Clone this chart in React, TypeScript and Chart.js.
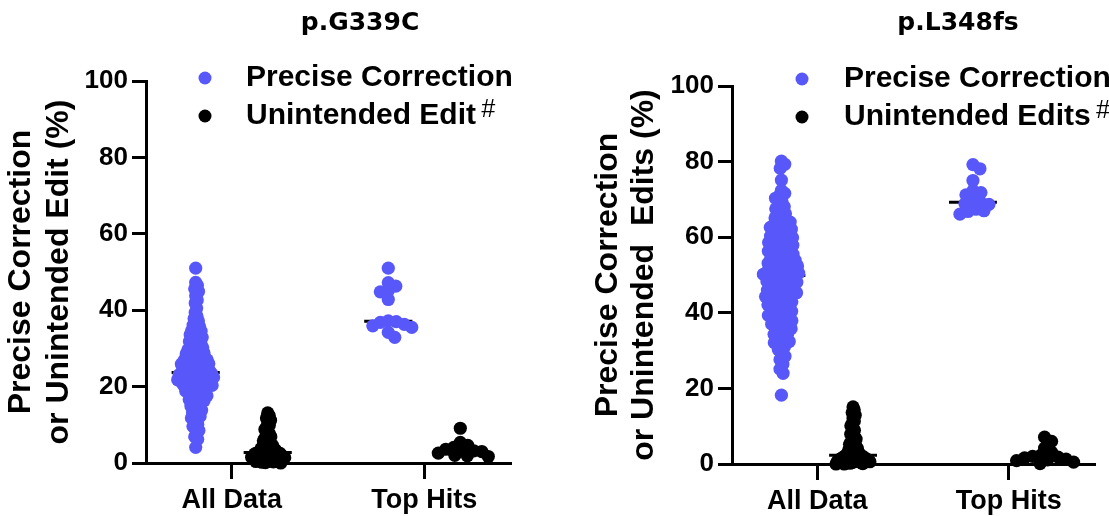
import React, { useEffect, useRef } from 'react';
import { Chart, registerables } from 'chart.js';

Chart.register(...registerables);

// ---------------- data ----------------
const categories = ['All Data', 'Top Hits'];
const yTickValues = [0, 20, 40, 60, 80, 100];

const g339cAllPrecise = [
  51.0, 47.3, 46.5, 45.6, 44.9, 43.8, 42.7, 41.9, 40.6, 39.4,
  38.5, 37.8, 37.2, 36.6, 36.1, 35.7, 35.2, 34.9, 34.5, 34.0,
  33.6, 33.3, 32.9, 32.5, 32.2, 31.8, 31.5, 31.1, 30.8, 30.6,
  30.2, 29.9, 29.7, 29.4, 29.1, 28.8, 28.6, 28.3, 28.1, 27.9,
  27.7, 27.4, 27.2, 27.0, 26.9, 26.7, 26.5, 26.4, 26.2, 26.0,
  25.9, 25.7, 25.5, 25.4, 25.2, 25.0, 24.9, 24.7, 24.5, 24.4,
  24.2, 24.1, 23.9, 23.7, 23.6, 23.4, 23.2, 23.1, 22.9, 22.7,
  22.6, 22.4, 22.2, 22.0, 21.9, 21.7, 21.5, 21.3, 21.1, 20.9,
  20.7, 20.5, 20.3, 20.1, 19.8, 19.6, 19.3, 19.0, 18.8, 18.5,
  18.2, 17.9, 17.6, 17.3, 17.0, 16.6, 16.3, 15.9, 15.5, 15.1,
  14.7, 14.3, 13.8, 13.4, 12.9, 12.5, 11.8, 11.2, 10.7, 10.1,
  9.6, 9.0, 8.5, 7.7, 6.9, 6.2, 4.1,
  23.8, 23.3, 22.8, 22.3, 21.8, 21.4, 20.8, 20.2, 19.5, 18.7, 17.8, 16.9,
  34.7, 33.1, 31.9, 30.4, 29.6, 28.9, 28.2, 27.6, 27.1, 26.6,
  26.1, 25.6, 25.1, 24.6, 24.0, 23.5, 23.0, 22.5, 22.1, 21.6,
  21.0, 20.4, 19.7, 18.9, 18.0, 17.1, 16.0, 14.9, 13.6, 12.2,
];
const g339cAllUnintended = [
  13.1, 12.4, 11.8, 11.2, 10.5, 9.9, 9.3, 8.8, 8.2, 7.7,
  7.3, 6.9, 6.5, 6.1, 5.8, 5.5, 5.2, 4.9, 4.7, 4.4,
  4.2, 4.0, 3.8, 3.7, 3.5, 3.4, 3.2, 3.1, 3.0, 2.9,
  2.8, 2.7, 2.6, 2.5, 2.5, 2.4, 2.3, 2.2, 2.1, 2.0,
  2.0, 1.9, 1.8, 1.7, 1.6, 1.5, 1.5, 1.4, 1.3, 1.2,
  1.1, 1.0, 0.9, 0.8, 0.7, 0.6, 0.5, 0.4, 0.3, 0.2, 0.1, 0.0,
];
const g339cTopPrecise = [51.0, 47.2, 46.3, 45.1, 44.8, 42.8, 37.2, 37.0, 36.8, 36.3, 35.9, 35.5, 34.2, 32.9];
const g339cTopUnintended = [9.1, 5.4, 4.6, 4.1, 3.6, 3.3, 3.2, 3.0, 2.6, 2.0, 1.9, 1.7];

const l348fsAllPrecise = [
  80.1, 79.3, 78.2, 75.1, 72.4, 71.6, 70.9, 70.3, 69.6, 68.8,
  68.1, 67.5, 66.9, 66.2, 65.6, 65.1, 64.6, 64.0, 63.5, 63.0,
  62.6, 62.1, 61.7, 61.2, 60.8, 60.3, 59.9, 59.4, 59.0, 58.6,
  58.1, 57.7, 57.3, 56.9, 56.5, 56.1, 55.7, 55.3, 54.9, 54.5,
  54.1, 53.8, 53.4, 53.1, 52.7, 52.4, 52.1, 51.7, 51.4, 51.1,
  50.8, 50.5, 50.2, 49.9, 49.6, 49.3, 49.0, 48.6, 48.3, 47.9,
  47.6, 47.2, 46.9, 46.5, 46.1, 45.8, 45.4, 45.1, 44.7, 44.3,
  43.9, 43.5, 43.1, 42.7, 42.3, 41.9, 41.4, 41.0, 40.6, 40.2,
  39.7, 39.3, 38.8, 38.4, 37.9, 37.5, 37.0, 36.5, 36.0, 35.5,
  34.9, 34.3, 33.6, 33.0, 32.4, 31.7, 31.0, 30.3, 29.4, 28.5,
  27.6, 26.4, 25.1, 24.0, 18.2,
  64.3, 63.2, 62.3, 61.4, 60.5, 59.6, 58.8, 57.9, 57.0, 56.3,
  55.5, 54.7, 53.9, 53.2, 52.5, 51.9, 51.2, 50.6, 50.0, 49.4,
  48.8, 48.1, 47.4, 46.7, 46.0, 45.3, 44.5, 43.7, 42.9, 42.1,
  41.2, 40.4, 39.5, 38.6, 37.7, 36.8, 35.8, 34.6, 33.3, 32.1,
];
const l348fsAllUnintended = [
  15.1, 14.3, 13.6, 12.9, 12.1, 11.4, 10.7, 10.1, 9.5, 8.9,
  8.4, 7.9, 7.4, 7.0, 6.6, 6.2, 5.8, 5.5, 5.2, 4.9,
  4.6, 4.3, 4.1, 3.9, 3.7, 3.5, 3.3, 3.1, 2.9, 2.8,
  2.6, 2.4, 2.3, 2.2, 2.1, 2.0, 1.9, 1.8, 1.7, 1.6,
  1.5, 1.4, 1.3, 1.2, 1.1, 1.0, 0.9, 0.8, 0.7, 0.6,
  0.5, 0.4, 0.3, 0.2, 0.1, 0.0,
  2.3, 1.9, 1.4, 1.0, 0.7, 0.4, 0.2, 0.0, 1.2, 1.6,
];
const l348fsTopPrecise = [79.2, 78.1, 75.0, 72.3, 71.8, 71.2, 69.4, 69.1, 68.9, 68.7, 67.4, 67.0, 66.8, 66.1];
const l348fsTopUnintended = [7.1, 6.0, 4.2, 3.1, 2.3, 2.0, 1.8, 1.6, 1.3, 1.1, 0.9, 0.5, 0.1];

// ---------------- style ----------------
const BLUE = '#5858FA';
const BLACK = '#000000';
const FONT = '"Liberation Sans", Arial, Helvetica, sans-serif';
const TITLE_FONT = '"DejaVu Sans", Verdana, sans-serif';
const GROUP_OFFSET = 0.187;
const MEDIAN_HALF = 0.125;
const POINT_R = 6.6;

type PanelSpec = {
  title: string;
  titleX: number;
  left: number;
  width: number;
  padding: { left: number; right: number; top: number; bottom: number };
  yWidth: number;
  xHeight: number;
  yTitle: string[];
  yTitleLH: number;
  yTitlePad: number;
  legendLabels: string[];
  legendDotX: number;
  legendTextX: number;
  legendY: number[];
  series: { values: number[][] };
};

const panels: PanelSpec[] = [
  {
    title: 'p.G339C',
    titleX: 360,
    left: 0,
    width: 555,
    padding: { left: 0, right: 45, top: 81, bottom: 0 },
    yWidth: 146,
    xHeight: 53,
    yTitle: ['Precise Correction', 'or Unintended Edit (%)'],
    yTitleLH: 1.2,
    yTitlePad: 2,
    legendLabels: ['Precise Correction', 'Unintended Edit'],
    legendDotX: 205,
    legendTextX: 246,
    legendY: [78, 116],
    series: { values: [g339cAllPrecise, g339cAllUnintended, g339cTopPrecise, g339cTopUnintended] },
  },
  {
    title: 'p.L348fs',
    titleX: 403,
    left: 555,
    width: 554,
    padding: { left: 0, right: 15, top: 86, bottom: 0 },
    yWidth: 177,
    xHeight: 52,
    yTitle: ['Precise Correction', 'or Unintended  Edits (%)'],
    yTitleLH: 1.1,
    yTitlePad: 36,
    legendLabels: ['Precise Correction', 'Unintended Edits'],
    legendDotX: 247,
    legendTextX: 289,
    legendY: [79, 117],
    series: { values: [l348fsAllPrecise, l348fsAllUnintended, l348fsTopPrecise, l348fsTopUnintended] },
  },
];

const medianOf = (arr: number[]) => {
  const s = [...arr].sort((a, b) => a - b);
  const n = s.length;
  return n % 2 ? s[(n - 1) / 2] : (s[n / 2 - 1] + s[n / 2]) / 2;
};

// beeswarm layout: horizontal pixel offsets derived from the values
function swarm(values: number[], center: number, chart: any, minD: number, maxHalf: number) {
  const xs = chart.scales.x;
  const ys = chart.scales.y;
  const pxX = xs.getPixelForValue(1) - xs.getPixelForValue(0);
  const order = values.map((_, i) => i).sort((a, b) => values[b] - values[a]);
  const placed: { x: number; y: number }[] = [];
  const offs = new Array(values.length).fill(0);
  for (const i of order) {
    const py = ys.getPixelForValue(values[i]);
    let chosen = 0;
    for (let k = 0; k < 800; k++) {
      const c = (k % 2 === 1 ? 1 : -1) * Math.ceil(k / 2) * 0.5;
      let ok = true;
      for (const p of placed) {
        const dx = p.x - c;
        const dy = p.y - py;
        if (dx * dx + dy * dy < minD * minD) { ok = false; break; }
      }
      if (ok) { chosen = c; break; }
    }
    placed.push({ x: chosen, y: py });
    offs[i] = chosen;
  }
  const m = Math.max(...offs.map((o) => Math.abs(o)));
  const f = m > maxHalf ? maxHalf / m : 1;
  return values.map((v, i) => ({ x: center + (offs[i] * f) / pxX, y: v }));
}

function decorPlugin(spec: PanelSpec) {
  return {
    id: 'decor',
    afterDraw(chart: any) {
      const ctx = chart.ctx;
      ctx.save();
      ctx.fillStyle = BLACK;
      ctx.textAlign = 'center';
      ctx.textBaseline = 'middle';
      ctx.font = `bold 25px ${TITLE_FONT}`;
      ctx.fillText(spec.title, spec.titleX, 23);

      const colors = [BLUE, BLACK];
      spec.legendLabels.forEach((label, i) => {
        const y = spec.legendY[i];
        ctx.beginPath();
        ctx.fillStyle = colors[i];
        ctx.arc(spec.legendDotX, y, 6.5, 0, Math.PI * 2);
        ctx.fill();
        ctx.fillStyle = BLACK;
        ctx.textAlign = 'left';
        ctx.textBaseline = 'middle';
        ctx.font = `bold 30px ${FONT}`;
        ctx.fillText(label, spec.legendTextX, y);
        if (i === 1) {
          const w = ctx.measureText(label).width;
          ctx.font = `italic 25px ${FONT}`;
          ctx.fillText('#', spec.legendTextX + w + 5, y - 6);
        }
      });
      ctx.restore();
    },
  };
}

function Panel({ spec }: { spec: PanelSpec }) {
  const ref = useRef<HTMLCanvasElement | null>(null);
  useEffect(() => {
    const canvas = ref.current;
    if (!canvas) return;
    const [allP, allU, topP, topU] = spec.series.values;
    const groups = [
      { values: allP, center: 0 - GROUP_OFFSET, color: BLUE, minD: 7.5, maxHalf: 18 },
      { values: allU, center: 0 + GROUP_OFFSET, color: BLACK, minD: 7.5, maxHalf: 17 },
      { values: topP, center: 1 - GROUP_OFFSET, color: BLUE, minD: 8, maxHalf: 40 },
      { values: topU, center: 1 + GROUP_OFFSET, color: BLACK, minD: 8, maxHalf: 40 },
    ];
    const pointSets: any[] = groups.map((g) => ({
      type: 'scatter',
      data: g.values.map((v) => ({ x: g.center, y: v })),
      backgroundColor: g.color,
      borderColor: g.color,
      borderWidth: 0,
      pointRadius: POINT_R,
      pointHoverRadius: POINT_R,
      clip: false,
      order: 0,
    }));
    const medianSets: any[] = groups.map((g) => {
      const med = medianOf(g.values);
      return {
        type: 'line',
        data: [
          { x: g.center - MEDIAN_HALF, y: med },
          { x: g.center + MEDIAN_HALF, y: med },
        ],
        borderColor: BLACK,
        borderWidth: 3,
        pointRadius: 0,
        showLine: true,
        fill: false,
        clip: false,
        order: 1,
      };
    });

    const tickFont = { family: FONT, size: 26, weight: 'bold' as const };
    const chart = new Chart(canvas, {
      type: 'scatter',
      data: { datasets: [...pointSets, ...medianSets] },
      options: {
        responsive: false,
        animation: false,
        events: [],
        layout: { padding: spec.padding },
        plugins: { legend: { display: false }, tooltip: { enabled: false }, title: { display: false } },
        scales: {
          x: {
            type: 'linear',
            min: -0.445,
            max: 1.445,
            afterBuildTicks: (s: any) => {
              s.ticks = categories.map((_, i) => ({ value: i }));
            },
            afterFit: (s: any) => {
              s.height = spec.xHeight;
            },
            ticks: {
              autoSkip: false,
              maxRotation: 0,
              padding: 5,
              color: BLACK,
              font: { family: FONT, size: 27, weight: 'bold' },
              callback: (v: any) => categories[Number(v)] ?? '',
            },
            grid: { display: true, drawOnChartArea: false, drawTicks: true, tickLength: 16, lineWidth: 3, color: BLACK },
            border: { display: true, width: 3, color: BLACK },
          },
          y: {
            type: 'linear',
            min: 0,
            max: 100,
            afterBuildTicks: (s: any) => {
              s.ticks = yTickValues.map((v) => ({ value: v }));
            },
            afterFit: (s: any) => {
              s.width = spec.yWidth;
            },
            ticks: { padding: 4, color: BLACK, font: tickFont },
            grid: { display: true, drawOnChartArea: false, drawTicks: true, tickLength: 14, lineWidth: 3, color: BLACK },
            border: { display: true, width: 3, color: BLACK },
            title: {
              display: true,
              text: spec.yTitle,
              color: BLACK,
              font: { family: FONT, size: 32, weight: 'bold', lineHeight: spec.yTitleLH },
              padding: { top: spec.yTitlePad, bottom: 0 },
            },
          },
        },
      } as any,
      plugins: [decorPlugin(spec)],
    });

    groups.forEach((g, i) => {
      (chart.data.datasets[i] as any).data = swarm(g.values, g.center, chart, g.minD, g.maxHalf);
    });
    chart.update('none');

    return () => chart.destroy();
  }, [spec]);

  return (
    <canvas
      ref={ref}
      width={spec.width}
      height={516}
      style={{ position: 'absolute', left: spec.left, top: 0, width: spec.width, height: 516 }}
    />
  );
}

export default function App() {
  return (
    <div style={{ position: 'fixed', left: 0, top: 0, width: 1109, height: 516, background: '#fff' }}>
      {panels.map((p) => (
        <Panel key={p.title} spec={p} />
      ))}
    </div>
  );
}
